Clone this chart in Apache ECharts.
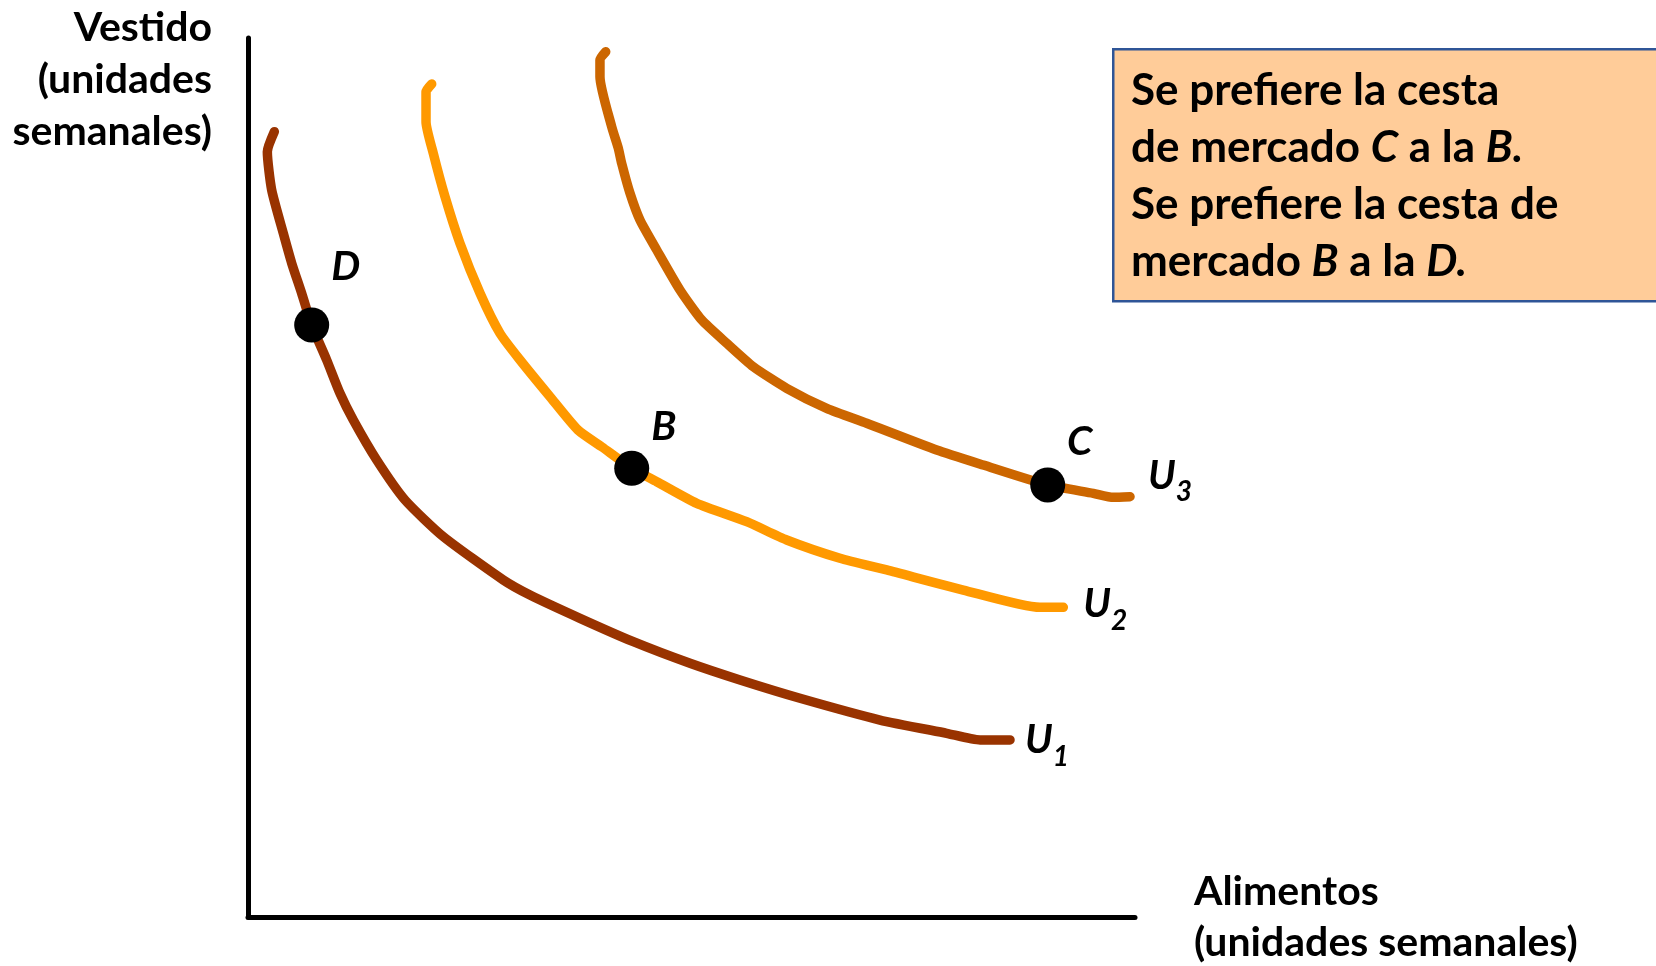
<!DOCTYPE html>
<html>
<head>
<meta charset="utf-8">
<script src="https://cdn.jsdelivr.net/npm/echarts@6/dist/echarts.min.js"></script>
<style>
  html, body { margin: 0; padding: 0; background: #fff; }
  #chart { width: 1656px; height: 966px; }
</style>
</head>
<body>
<div id="chart"></div>
<script>
// indifference curves (0-10 units on both axes)
const u1Points = [
    [0.297, 8.934], [0.218, 8.706], [0.267, 8.271], [0.398, 7.778], [0.493, 7.437],
    [0.605, 7.096], [0.718, 6.735], [0.887, 6.337], [1.037, 5.958], [1.187, 5.654],
    [1.451, 5.199], [1.770, 4.744], [2.202, 4.327], [2.878, 3.834], [3.179, 3.663],
    [3.743, 3.398], [4.344, 3.132], [4.983, 2.886], [5.547, 2.696], [6.223, 2.488],
    [7.125, 2.241], [7.877, 2.090], [8.253, 2.014], [8.591, 2.014]
];
const u2Points = [
    [2.071, 9.477], [2.007, 9.389], [2.007, 9.048], [2.089, 8.688], [2.221, 8.195],
    [2.390, 7.664], [2.616, 7.096], [2.841, 6.640], [3.067, 6.337], [3.405, 5.919],
    [3.720, 5.540], [3.991, 5.347], [4.326, 5.105], [4.608, 4.952], [5.059, 4.706],
    [5.622, 4.497], [6.073, 4.289], [6.674, 4.081], [7.201, 3.948], [8.064, 3.720],
    [8.929, 3.523], [9.192, 3.523]
];
const u3Points = [
    [4.033, 9.844], [3.968, 9.750], [3.968, 9.560], [4.100, 8.991], [4.175, 8.745],
    [4.213, 8.574], [4.307, 8.233], [4.419, 7.929], [4.608, 7.588], [4.870, 7.133],
    [5.115, 6.792], [5.397, 6.527], [5.697, 6.260], [6.073, 6.015], [6.524, 5.787],
    [6.975, 5.617], [7.764, 5.313], [8.290, 5.142], [9.016, 4.915], [9.530, 4.820],
    [9.755, 4.775], [9.944, 4.782]
];
const curveSubs = ['1', '2', '3'];
const curveColors = ['#993300', '#FF9900', '#CC6600'];

// market baskets
const basketNames = ['D', 'B', 'C'];
const basketX = [0.718, 4.326, 9.016];
const basketY = [6.735, 5.105, 4.915];

const yTitle = ['Vestido', '(unidades', 'semanales)'];
const xTitle = 'Alimentos\n(unidades semanales)';

const FONT = 'Lato, "Open Sans", sans-serif';

const chart = echarts.init(document.getElementById('chart'), null, { renderer: 'canvas' });

const curves = [u1Points, u2Points, u3Points];
const endOffsets = [[7, 0], [12, -3], [10, -21]];

const lineSeries = curves.map((pts, i) => ({
    type: 'line',
    name: 'U' + curveSubs[i],
    data: pts,
    smooth: 0.2,
    showSymbol: false,
    clip: false,
    z: 2,
    lineStyle: { color: curveColors[i], width: 9.5, cap: 'round', join: 'round' },
    endLabel: {
        show: true,
        offset: endOffsets[i],
        formatter: () => '{u|U}{s|' + curveSubs[i] + '}',
        rich: {
            u: { fontFamily: FONT, fontSize: 40, fontWeight: 'bold', fontStyle: 'italic', color: '#000', lineHeight: 40 },
            // subscript: taller line, glyph pushed to the bottom
            s: { fontFamily: FONT, fontSize: 28, fontWeight: 'bold', fontStyle: 'italic', color: '#000', lineHeight: 61, verticalAlign: 'bottom' }
        }
    }
}));

const labelOffsets = [[34, -58], [32, -41], [32, -43]];

chart.setOption({
    animation: false,
    backgroundColor: '#fff',
    grid: { left: 248, top: 38, right: 521, bottom: 49 },
    xAxis: {
        type: 'value', min: 0, max: 10,
        axisLine: { show: true, onZero: false, lineStyle: { color: '#000', width: 5 } },
        axisTick: { show: false }, axisLabel: { show: false }, splitLine: { show: false }
    },
    yAxis: {
        type: 'value', min: 0, max: 10,
        axisLine: { show: true, onZero: false, lineStyle: { color: '#000', width: 5 } },
        axisTick: { show: false }, axisLabel: { show: false }, splitLine: { show: false }
    },
    series: [
        ...lineSeries,
        {
            type: 'scatter',
            z: 3,
            symbolSize: 35,
            itemStyle: { color: '#000', opacity: 1 },
            data: basketNames.map((n, i) => ({
                name: n,
                value: [basketX[i], basketY[i]],
                label: { offset: labelOffsets[i] }
            })),
            label: {
                show: true,
                position: 'inside',
                formatter: '{b}',
                color: '#000',
                opacity: 1,
                fontFamily: FONT,
                fontSize: 41,
                fontWeight: 'bold',
                fontStyle: 'italic'
            }
        }
    ],
    graphic: [
        ...yTitle.map((t, i) => ({
            type: 'text',
            right: 1444,
            top: 2 + i * 52,
            style: { text: t, fill: '#000', font: 'bold 41px ' + FONT, lineHeight: 52 }
        })),
        {
            type: 'text',
            left: 1194,
            top: 866,
            style: {
                text: xTitle,
                fill: '#000',
                font: 'bold 41px ' + FONT,
                lineHeight: 51
            }
        },
        {
            type: 'rect',
            left: 1112,
            top: 48,
            shape: { width: 560, height: 252 },
            style: { fill: '#FFCC99', stroke: '#2F5597', lineWidth: 2.5 }
        },
        {
            type: 'text',
            left: 1131,
            top: 62,
            style: {
                text: 'Se prefiere la cesta\nde mercado {i|C} a la {i|B.}\nSe prefiere la cesta de\nmercado {i|B} a la {i|D.}',
                fill: '#000',
                font: 'bold 44px ' + FONT,
                lineHeight: 57,
                rich: {
                    i: { fontFamily: FONT, fontSize: 44, fontWeight: 'bold', fontStyle: 'italic', lineHeight: 57 }
                }
            }
        }
    ]
});
</script>
</body>
</html>
